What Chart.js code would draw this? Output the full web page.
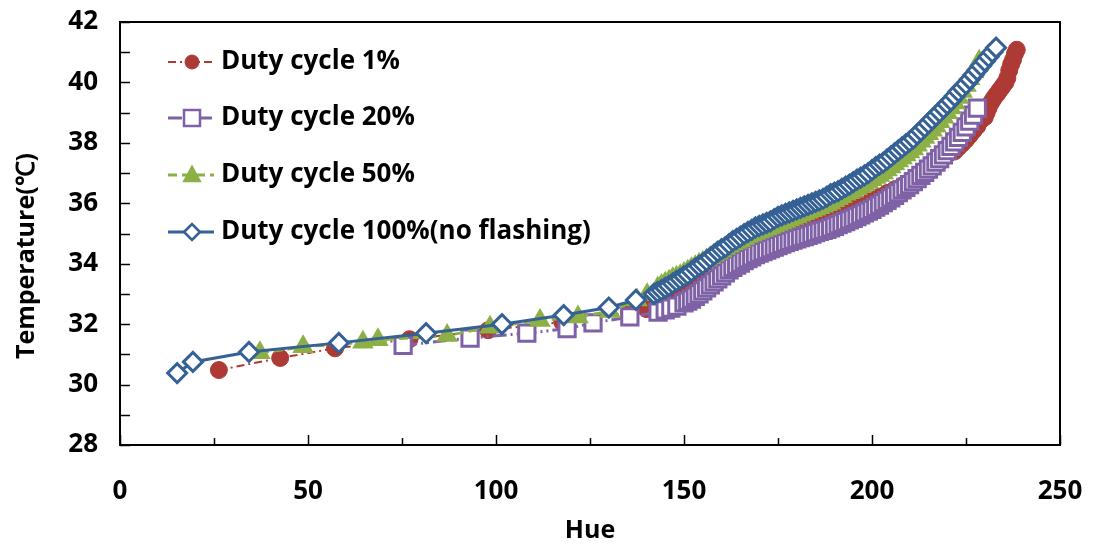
<!DOCTYPE html>
<html>
<head>
<meta charset="utf-8">
<script src="https://cdn.jsdelivr.net/npm/chart.js"></script>
<style>
html,body{margin:0;padding:0;background:#fff;}
#wrap{width:1103px;height:546px;}
</style>
</head>
<body>
<div id="wrap"><canvas id="c" width="1103" height="546"></canvas></div>
<script>
// ---- data ----
const seriesNames = ["Duty cycle 1%", "Duty cycle 20%", "Duty cycle 50%", "Duty cycle 100%(no flashing)"];
const xTicks = [0, 50, 100, 150, 200, 250];
const yTicks = [28, 30, 32, 34, 36, 38, 40, 42];

const hue1 = [26.3,42.6,57.2,77.0,97.9,117.6,135.4,
  140,141,142,143,144,145,146,147,148,149,150,151,152,153,154,155,156,157,158,159,160,161,162,163,164,165,166,167,168,169,170,171,172,173,174,175,176,177,178,179,180,181,182,183,184,185,186,187,188,189,190,191,192,193,194,195,196,197,198,199,
  200,202,204,206,208,210,212,214,216,218,220,222,223,224,225,226,227,228,229,230,230.5,231,231.5,232,232.5,233,233.5,234,234.5,235,235.5,236,236.5,237,237.5,238,238.5,238.8];
const temp1 = [30.48,30.88,31.20,31.50,31.80,32.07,32.37,
  32.5,32.54,32.58,32.62,32.67,32.72,32.78,32.84,32.91,32.98,33.05,33.13,33.21,33.29,33.37,33.45,33.53,33.61,33.69,33.77,33.85,33.92,33.99,34.06,34.13,34.2,34.27,34.34,34.41,34.48,34.55,34.61,34.67,34.72,34.78,34.83,34.88,34.93,34.98,35.04,35.1,35.15,35.2,35.25,35.3,35.35,35.4,35.45,35.5,35.55,35.6,35.65,35.7,35.75,35.8,35.85,35.88,35.92,35.96,
  36.0,36.1,36.22,36.34,36.46,36.58,36.72,36.86,37.0,37.15,37.35,37.6,37.72,37.85,37.97,38.1,38.25,38.4,38.55,38.75,38.85,39.0,39.15,39.3,39.4,39.5,39.58,39.66,39.75,39.83,39.92,40.0,40.15,40.4,40.6,40.75,40.95,41.08];

const hue20 = [75.3,93.1,108.2,118.9,125.8,135.6,143.1,145,146.5,148.1,150,151,
  152,153,154,155,156,157,158,159,160,161,162,163,164,165,166,167,168,169,170,171,172,173,174,175,176,177,178,179,180,181,182,183,184,185,186,187,188,189,190,191,192,193,194,195,196,197,198,199,200,201,202,203,204,205,206,207,208,209,210,211,212,213,214,215,216,217,218,219,220,221,222,223,224,225,226,227,228];
const temp20 = [31.30,31.54,31.70,31.85,32.04,32.24,32.40,32.47,32.53,32.60,32.70,32.76,
  32.83,32.92,33.0,33.1,33.2,33.3,33.4,33.5,33.6,33.7,33.8,33.88,33.95,34.02,34.1,34.17,34.23,34.3,34.35,34.4,34.45,34.5,34.55,34.6,34.65,34.7,34.74,34.78,34.82,34.86,34.9,34.94,34.98,35.03,35.07,35.1,35.14,35.19,35.24,35.29,35.34,35.39,35.45,35.5,35.56,35.62,35.68,35.74,35.8,35.87,35.94,36.02,36.1,36.18,36.26,36.35,36.44,36.53,36.62,36.72,36.82,36.92,37.02,37.13,37.24,37.36,37.48,37.6,37.74,37.88,38.03,38.18,38.35,38.53,38.72,38.92,39.15];

const hue50 = [37.2,48.7,64.6,68.6,87.0,98.4,111.7,121.8,130.3,137.5,140.2,
  143,144,145,146,147,148,149,150,151,152,153,154,155,156,157,158,159,160,161,162,163,164,165,166,167,168,169,170,171,172,173,174,175,176,177,178,179,180,181,182,183,184,185,186,187,188,189,190,191,192,193,194,195,196,197,198,199,200,201,202,203,204,205,206,207,208,209,210,211,212,213,214,215,216,217,218,219,220,221,222,223,224,225,226,227,228,228.5];
const temp50 = [31.05,31.25,31.40,31.48,31.62,31.90,32.12,32.24,32.42,32.80,32.97,
  33.2,33.28,33.35,33.42,33.5,33.55,33.6,33.68,33.75,33.83,33.9,33.98,34.05,34.12,34.2,34.28,34.35,34.42,34.5,34.58,34.65,34.7,34.75,34.83,34.9,34.95,35.0,35.05,35.1,35.15,35.2,35.25,35.3,35.35,35.4,35.45,35.5,35.55,35.6,35.65,35.7,35.75,35.8,35.85,35.9,35.95,36.0,36.08,36.15,36.22,36.3,36.35,36.4,36.48,36.55,36.62,36.7,36.78,36.85,36.92,37.0,37.1,37.2,37.3,37.4,37.5,37.6,37.7,37.8,37.92,38.05,38.18,38.3,38.42,38.55,38.7,38.85,39.0,39.15,39.32,39.5,39.7,39.9,40.12,40.35,40.55,40.7];

const hue100 = [15.2,19.4,34.3,58.2,81.4,101.6,118.0,130.0,137.2,142.0,
  143,144,145,146,147,148,149,150,151,152,153,154,155,156,157,158,159,160,161,162,163,164,165,166,167,168,169,170,171,172,173,174,175,176,177,178,179,180,181,182,183,184,185,186,187,188,189,190,191,192,193,194,195,196,197,198,199,200,201,202,203,204,205,206,207,208,209,210,211,212,213,214,215,216,217,218,219,220,221,222,223,224,225,226,227,228,229,230,231,232,233];
const temp100 = [30.38,30.75,31.08,31.38,31.70,32.00,32.30,32.55,32.80,33.0,
  33.07,33.13,33.2,33.27,33.35,33.43,33.5,33.58,33.65,33.75,33.85,33.93,34.0,34.1,34.2,34.3,34.4,34.48,34.55,34.65,34.75,34.82,34.9,34.98,35.05,35.12,35.2,35.25,35.3,35.35,35.4,35.48,35.55,35.6,35.65,35.7,35.75,35.8,35.85,35.9,35.95,36.0,36.05,36.1,36.15,36.22,36.3,36.35,36.4,36.48,36.55,36.62,36.7,36.78,36.85,36.92,37.0,37.1,37.2,37.28,37.35,37.45,37.55,37.65,37.75,37.85,37.95,38.05,38.15,38.28,38.4,38.52,38.65,38.78,38.9,39.02,39.15,39.28,39.4,39.55,39.7,39.82,39.95,40.1,40.25,40.4,40.55,40.7,40.85,41.0,41.15];

const pts = (xs, ys) => xs.map((x, i) => ({x: x, y: ys[i]}));

const RED = '#AE3A36', PURPLE = '#7F62A6', GREEN = '#8CB046', BLUE = '#356195';
const FONT = '"Open Sans", Lato, sans-serif';

const styles = [
  {color: RED, dash: [8,4,2,4], width: 2, shape: 'circle', fill: RED},
  {color: PURPLE, dash: [14,4,2,4,2,4], width: 3, shape: 'rect', fill: '#ffffff'},
  {color: GREEN, dash: [9,5], width: 3, shape: 'triangle', fill: GREEN},
  {color: BLUE, dash: [], width: 3, shape: 'rectRot', fill: '#ffffff'}
];

function drawShape(ctx, shape, x, y, r, color, fill, lw) {
  ctx.save();
  ctx.beginPath();
  if (shape === 'circle') { ctx.arc(x, y, r, 0, Math.PI*2); }
  else if (shape === 'rect') { ctx.rect(x-r, y-r, 2*r, 2*r); }
  else if (shape === 'triangle') { ctx.moveTo(x, y-r); ctx.lineTo(x+r*0.95, y+r*0.75); ctx.lineTo(x-r*0.95, y+r*0.75); ctx.closePath(); }
  else { ctx.moveTo(x-r, y); ctx.lineTo(x, y-r); ctx.lineTo(x+r, y); ctx.lineTo(x, y+r); ctx.closePath(); }
  ctx.fillStyle = fill; ctx.fill();
  ctx.lineWidth = lw; ctx.strokeStyle = color; ctx.stroke();
  ctx.restore();
}

const framePlugin = {
  id: 'frame',
  afterDraw(chart) {
    const ctx = chart.ctx, a = chart.chartArea;
    const xs = chart.scales.x, ys = chart.scales.y;
    ctx.save();
    ctx.strokeStyle = '#000'; ctx.lineWidth = 2;
    ctx.strokeRect(a.left, a.top, a.right - a.left, a.bottom - a.top);
    ctx.lineWidth = 1.5;
    for (let v = 0; v <= 250; v += 25) {
      const px = Math.round(xs.getPixelForValue(v)) + 0.5;
      const len = (v % 50 === 0) ? 10 : 7;
      ctx.beginPath(); ctx.moveTo(px, a.bottom); ctx.lineTo(px, a.bottom - len); ctx.stroke();
    }
    for (let v = 28; v <= 42; v += 1) {
      const py = Math.round(ys.getPixelForValue(v)) + 0.5;
      ctx.beginPath(); ctx.moveTo(a.left, py); ctx.lineTo(a.left + 10, py); ctx.stroke();
    }
    // y-axis title
    ctx.save();
    ctx.translate(27, 256);
    ctx.rotate(-Math.PI/2);
    ctx.font = 'bold 25px ' + FONT;
    ctx.fillStyle = '#000'; ctx.textAlign = 'center'; ctx.textBaseline = 'middle';
    ctx.fillText('Temperature(\u2103)', 0, 0);
    ctx.restore();
    // legend
    const ly = [62, 118, 175, 232];
    ctx.font = 'bold 26px ' + FONT;
    ctx.textBaseline = 'middle'; ctx.textAlign = 'left';
    seriesNames.forEach((name, i) => {
      const s = styles[i], y = ly[i];
      ctx.save();
      ctx.strokeStyle = s.color; ctx.lineWidth = s.width; ctx.setLineDash(s.dash);
      ctx.beginPath(); ctx.moveTo(168, y); ctx.lineTo(214, y); ctx.stroke();
      ctx.restore();
      const r = s.shape === 'rect' ? 8 : (s.shape === 'circle' ? 7 : 8);
      drawShape(ctx, s.shape, 192, y, r, s.color, s.fill, s.shape === 'circle' ? 1 : 2.5);
      ctx.fillStyle = '#000';
      ctx.fillText(name, 221, y);
    });
    ctx.restore();
  }
};

const allData = [pts(hue1, temp1), pts(hue20, temp20), pts(hue50, temp50), pts(hue100, temp100)];
const radii = [8.5, 11.5, 9.5, 9.5];
const orders = [4, 3, 2, 1];

const datasets = allData.map((d, i) => ({
  label: seriesNames[i],
  data: d,
  showLine: true,
  borderColor: styles[i].color,
  borderWidth: styles[i].width,
  borderDash: styles[i].dash,
  pointStyle: styles[i].shape,
  pointRadius: radii[i],
  pointBackgroundColor: styles[i].fill,
  pointBorderColor: styles[i].color,
  pointBorderWidth: i === 0 ? 1 : 3,
  order: orders[i],
  tension: 0
}));

new Chart(document.getElementById('c'), {
  type: 'scatter',
  data: { datasets: datasets },
  options: {
    responsive: false,
    devicePixelRatio: 1,
    animation: false,
    events: [],
    layout: { padding: { left: 0, right: 43, top: 22, bottom: 0 } },
    plugins: { legend: { display: false }, tooltip: { enabled: false } },
    scales: {
      x: {
        type: 'linear', min: 0, max: 250,
        afterBuildTicks: (s) => { s.ticks = xTicks.map(v => ({value: v})); },
        grid: { display: false, drawTicks: false },
        border: { display: false },
        ticks: { color: '#000', font: { family: FONT, size: 26, weight: 'bold' }, padding: 31, maxRotation: 0 },
        title: { display: true, text: 'Hue', color: '#000', font: { family: FONT, size: 25, weight: 'bold' }, padding: { top: 3, bottom: 0 } },
        afterFit: (s) => { s.height = 101; s.paddingLeft = 0; s.paddingRight = 0; }
      },
      y: {
        type: 'linear', min: 28, max: 42,
        afterBuildTicks: (s) => { s.ticks = yTicks.map(v => ({value: v})); },
        grid: { display: false, drawTicks: false },
        border: { display: false },
        ticks: { color: '#000', font: { family: FONT, size: 26, weight: 'bold' }, padding: 22 },
        afterFit: (s) => { s.width = 120; s.paddingTop = 0; s.paddingBottom = 0; }
      }
    }
  },
  plugins: [framePlugin]
});
</script>
</body>
</html>
